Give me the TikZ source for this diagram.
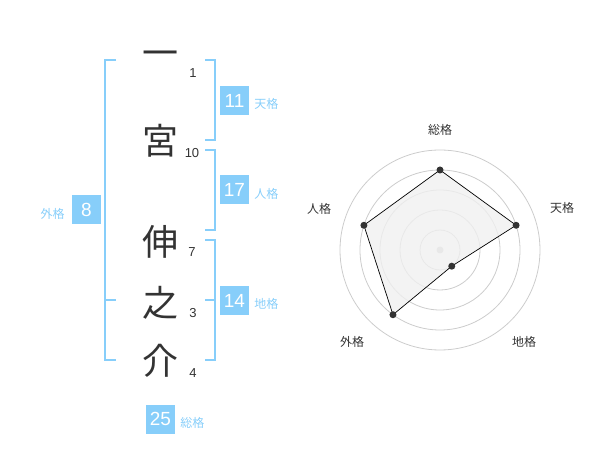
\documentclass[tikz,border=0pt]{standalone}
\usepackage{fontspec}
\setmainfont{Liberation Sans}
\newfontfamily\cjk{Noto Sans CJK JP}
\usepackage{tikz}
\definecolor{kaku}{RGB}{135,206,250}
\definecolor{ink}{RGB}{51,51,51}
\definecolor{ring}{RGB}{204,204,204}
\definecolor{area}{RGB}{240,240,240}
\usetikzlibrary{positioning}

\tikzset{
    moji/.style={font=\cjk\fontsize{36}{36}\selectfont, text=ink, inner sep=0pt},
    kakusu/.style={font=\fontsize{13}{13}\selectfont, text=ink, inner sep=0pt},
    numbox/.style={fill=kaku, text=white, minimum size=29pt, inner sep=0pt, font=\fontsize{19}{19}\selectfont},
    kakuname/.style={font=\cjk\fontsize{12}{12}\selectfont, text=kaku, inner sep=0pt, yshift=-3.5pt},
    bracket/.style={draw=kaku, line width=2pt},
    axisname/.style={font=\cjk\fontsize{12}{12}\selectfont, text=ink, inner sep=0pt},
    dot/.style={circle, fill=ink, inner sep=0pt, minimum size=7pt},
}

\begin{document}
\begin{tikzpicture}[x=1pt,y=-1pt]
        \useasboundingbox (0,0) rectangle (600,470);

        \node[moji] (c1) at (160,59) {一};
        \node[moji] (c2) at (160,141) {宮};
        \node[moji] (c3) at (160,242) {伸};
        \node[moji] (c4) at (160,303) {之};
        \node[moji] (c5) at (160,361) {介};

        \node[kakusu] (s1) at (193,73) {1};
        \node[kakusu] (s2) at (192,153) {10};
        \node[kakusu] (s3) at (192,252) {7};
        \node[kakusu] (s4) at (193,313) {3};
        \node[kakusu] (s5) at (193,373) {4};

        \draw[bracket] (116,60) -- (105,60) -- (105,360) -- (116,360);
        \draw[bracket] (105,300) -- (116,300);
        \draw[bracket] (205,60) -- (215,60) -- (215,140) -- (205,140);
        \draw[bracket] (205,150) -- (215,150) -- (215,230) -- (205,230);
        \draw[bracket] (205,240) -- (215,240) -- (215,360) -- (205,360);
        \draw[bracket] (205,300) -- (215,300);

        \node[numbox] (ten) at (234.5,100.5) {11};
        \node[kakuname, right=5pt of ten] (tenname) {天格};
        \node[numbox] (jin) at (234.5,190) {17};
        \node[kakuname, right=5pt of jin] (jinname) {人格};
        \node[numbox] (chi) at (234.5,300.5) {14};
        \node[kakuname, right=5pt of chi] (chiname) {地格};
        \node[numbox] (gai) at (86.5,210) {8};
        \node[kakuname, left=7pt of gai] (gainame) {外格};
        \node[numbox] (so) at (160.5,419) {25};
        \node[kakuname, right=5pt of so] (soname) {総格};

        \begin{scope}[shift={(440,250)}]
            \foreach \r in {20,40,...,100}
                \draw[ring, line width=0.8pt] (0,0) circle[radius=\r pt];
            \fill[ring] (0,0) circle[radius=3.5pt];

            \coordinate (rso) at (90:80pt);
            \coordinate (rten) at (18:80pt);
            \coordinate (rchi) at (-54:20pt);
            \coordinate (rgai) at (-126:80pt);
            \coordinate (rjin) at (162:80pt);
            \fill[area, opacity=0.8] (rso) -- (rten) -- (rchi) -- (rgai) -- (rjin) -- cycle;
            \draw[black, line width=0.7pt] (rso) -- (rten) -- (rchi) -- (rgai) -- (rjin) -- cycle;
            \foreach \p in {rso,rten,rchi,rgai,rjin}
                \node[dot] at (\p) {};

            \node[axisname] (lso) at (0pt,120pt) {総格};
            \node[axisname] (lten) at (122pt,42pt) {天格};
            \node[axisname] (ljin) at (-121pt,41pt) {人格};
            \node[axisname] (lgai) at (-88pt,-92pt) {外格};
            \node[axisname] (lchi) at (84pt,-92pt) {地格};
        \end{scope}
    \end{tikzpicture}
\end{document}
